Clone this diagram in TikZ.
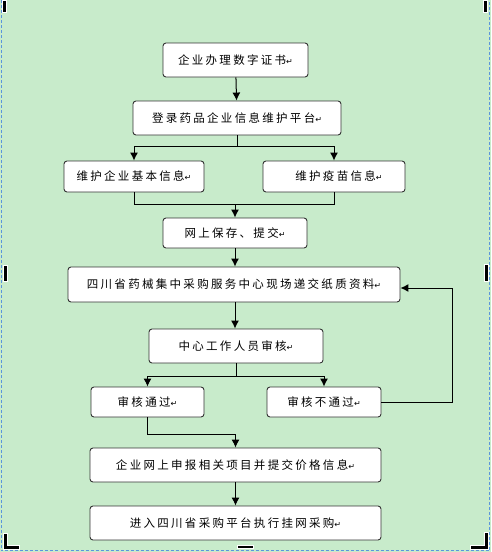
\documentclass[tikz,border=0pt]{standalone}
\usepackage{fontspec}
\setmainfont{Noto Sans CJK SC}[LetterSpace=20]
\newfontfamily\symfont{DejaVu Sans}
\usetikzlibrary{arrows.meta}
\definecolor{pagegreen}{RGB}{200,235,203}
\definecolor{dashblue}{RGB}{90,150,220}
\newcommand{\pmark}{{\symfont\fontsize{8}{8}\selectfont ↵}}
\begin{document}
\begin{tikzpicture}
	[x=1pt,y=-1pt,
	 box/.style={rectangle,rounded corners=3pt,draw=black!80,line width=0.9pt,fill=white,
	   inner sep=0pt,minimum height=34pt,font=\fontsize{11.5}{12}\selectfont},
	 handle/.style={fill=black,draw=white,line width=0.8pt},
	 >={Latex[length=8pt,width=8pt]}]
    % page
    \fill[pagegreen] (0,0) rectangle (491,552);
    \useasboundingbox (0,0) rectangle (491,552);
    \draw[dashblue,dashed,line width=1pt,dash pattern=on 3pt off 2pt] (1,0) -- (1,550.5) -- (489.5,550.5) -- (489.5,0);
    \filldraw[handle] (2,0) rectangle (6,12);
    \filldraw[handle] (483,0) rectangle (487,12);
    \filldraw[handle] (3,265) rectangle (7,281);
    \filldraw[handle] (484,264) rectangle (488,281);
    \filldraw[handle] (237,545) rectangle (253,548);
    \filldraw[handle] (3,533) -- (7,533) -- (7,545) -- (19,545) -- (19,549) -- (3,549) -- cycle;
    \filldraw[handle] (484,532) -- (488,532) -- (488,549) -- (470,549) -- (470,545) -- (484,545) -- cycle;
    % boxes
    \node[box,minimum width=145pt] (b1) at (235.5,60) {企业办理数字证书\pmark};
    \node[box,minimum width=208pt] (b2) at (237,118) {登录药品企业信息维护平台\pmark};
    \node[box,minimum width=140pt,minimum height=31pt] (b3) at (134,176.5) {维护企业基本信息\pmark};
    \node[box,minimum width=142pt,minimum height=31pt] (b4) at (334,176.5) {\hspace{10pt}维护疫苗信息\pmark};
    \node[box,minimum width=144pt,minimum height=30pt] (b5) at (235,233) {网上保存、提交\pmark};
    \node[box,minimum width=332pt,minimum height=35pt] (b6) at (234,284.5) {四川省药械集中采购服务中心现场递交纸质资料\pmark};
    \node[box,minimum width=174pt] (b7) at (236,346) {中心工作人员审核\pmark};
    \node[box,minimum width=113pt,minimum height=30pt] (b8) at (147.5,402) {审核通过\pmark};
    \node[box,minimum width=114pt,minimum height=30pt] (b9) at (324,402) {审核不通过\pmark};
    \node[box,minimum width=291pt] (b10) at (235.5,465) {企业网上申报相关项目并提交价格信息\pmark};
    \node[box,minimum width=291pt] (b11) at (235.5,523) {进入四川省采购平台执行挂网采购\pmark};
    % junctions
    \coordinate (s1) at (237,146);
    \coordinate (m1) at (235,204);
    \coordinate (s2) at (236,376);
    \coordinate (s3) at (235.5,434);
    \coordinate (fb) at (452,402);
    % connectors
    \draw [line width=1pt,->] (b1) -- (b2);
    \draw [line width=1pt] (b2) -- (s1);
    \draw [line width=1pt,->] (s1) -| (b3);
    \draw [line width=1pt,->] (s1) -| (b4);
    \draw [line width=1pt] (b3) |- (m1);
    \draw [line width=1pt] (b4) |- (m1);
    \draw [line width=1pt,->] (m1) -- (b5);
    \draw [line width=1pt,->] (b5) -- (b5 |- b6.north);
    \draw [line width=1pt,->] (b6.south -| b5) -- (b7.north -| b5);
    \draw [line width=1pt] (b7) -- (s2);
    \draw [line width=1pt,->] (s2) -| (b8);
    \draw [line width=1pt,->] (s2) -| (b9);
    \draw [line width=1pt,->] (b8) |- (s3) -- (b10);
    \draw [line width=1pt,->] (b10) -- (b11);
    \draw [line width=1pt,->] (b9) -- (fb) |- ([yshift=-3.5pt]b6.east);
\end{tikzpicture}
\end{document}
